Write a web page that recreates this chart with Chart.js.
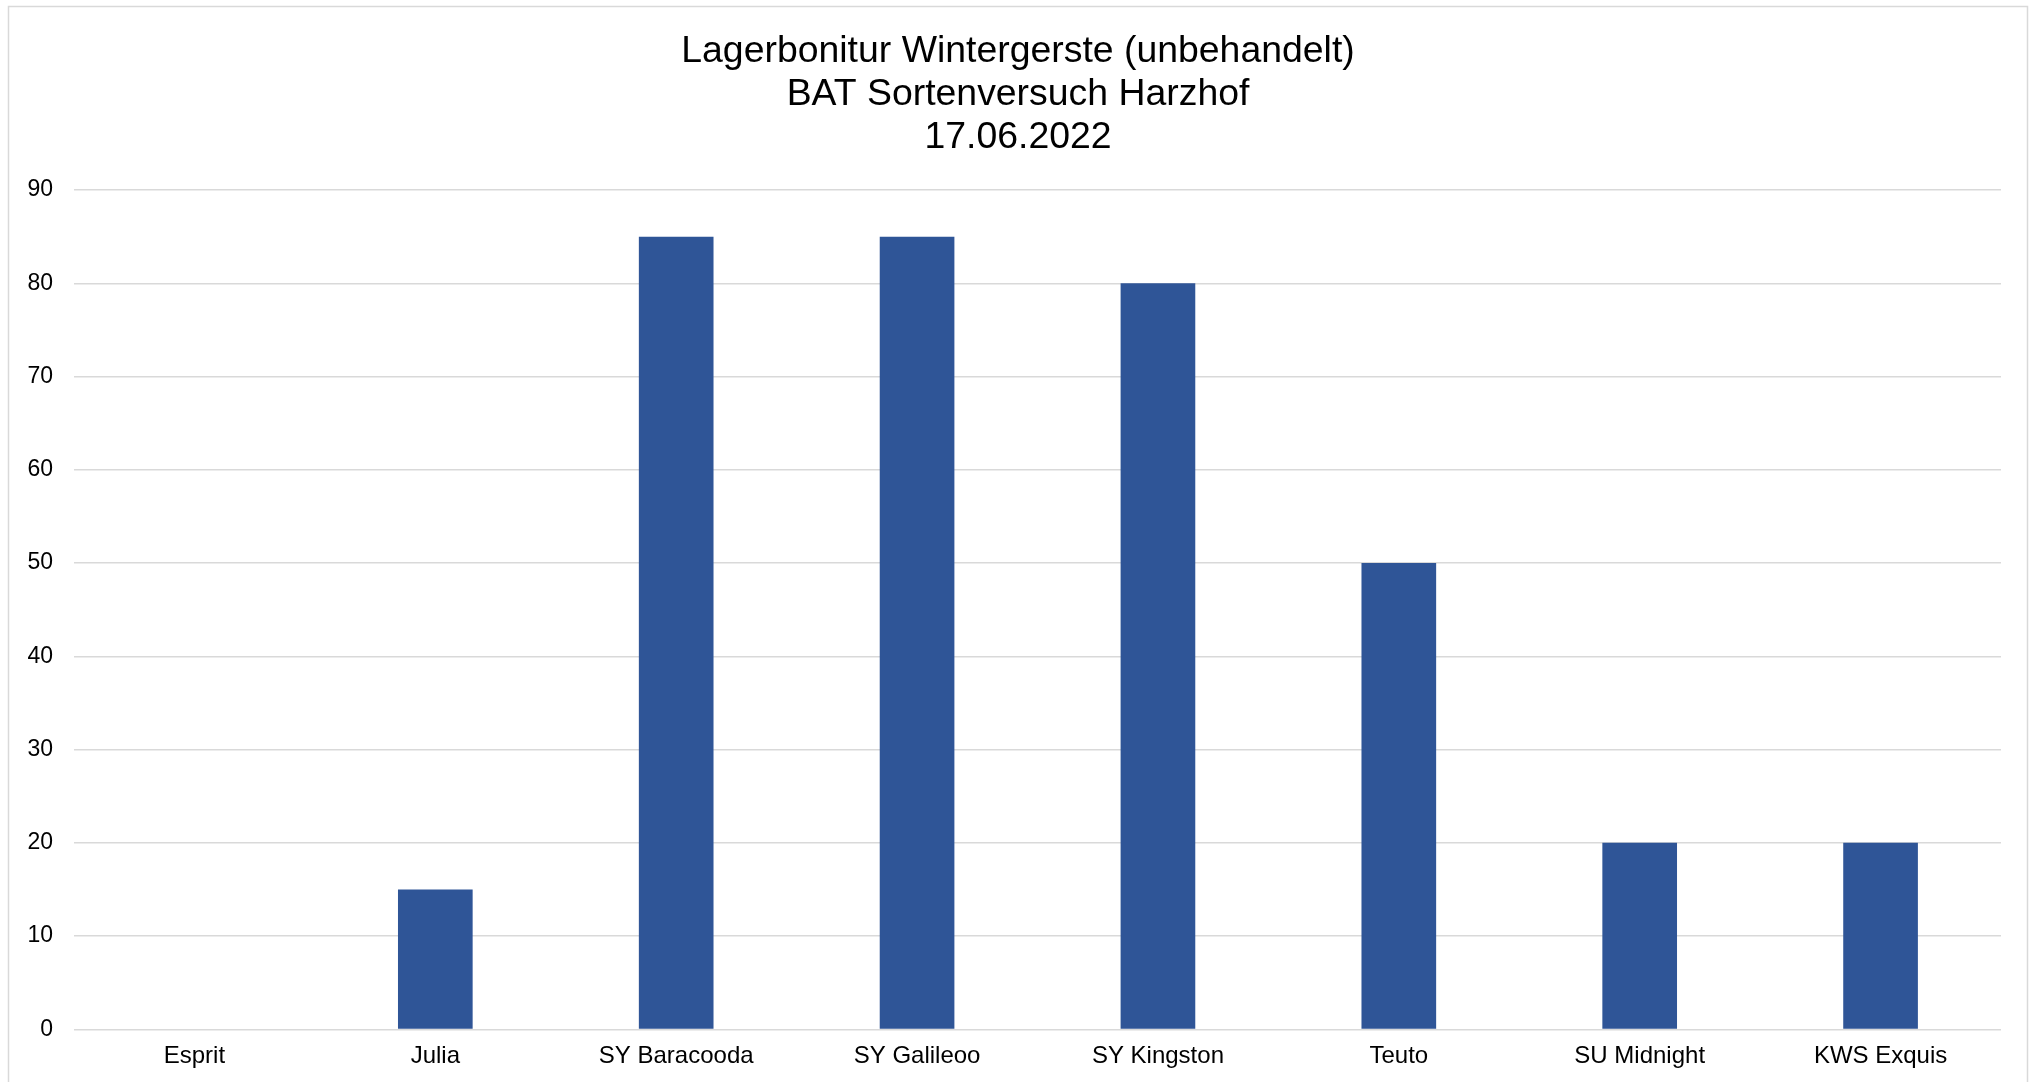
<!DOCTYPE html>
<html>
<head>
<meta charset="utf-8">
<script src="https://cdn.jsdelivr.net/npm/chart.js@4/dist/chart.umd.min.js"></script>
<style>
  html, body { margin: 0; padding: 0; background: #fff; overflow: hidden; }
  #wrap { position: absolute; left: 0; top: 0; width: 2029px; height: 1082px; }
</style>
</head>
<body>
<div id="wrap"><canvas id="c"></canvas></div>
<script>
const categories = ["Esprit", "Julia", "SY Baracooda", "SY Galileoo", "SY Kingston", "Teuto", "SU Midnight", "KWS Exquis"];
const values = [0, 15, 85, 85, 80, 50, 20, 20];
const titleLines = ["Lagerbonitur Wintergerste (unbehandelt)", "BAT Sortenversuch Harzhof", "17.06.2022"];
const yMin = 0, yMax = 90, yStep = 10;

const FONT = "'Liberation Sans', Arial, sans-serif";

const borderPlugin = {
  id: 'outerBorder',
  afterLayout(chart) {
    if (chart.titleBlock) {
      chart.titleBlock.left = 8;
      chart.titleBlock.right = 2028;
    }
  },
  beforeDraw(chart) {
    const ctx = chart.ctx;
    ctx.save();
    ctx.fillStyle = '#ffffff';
    ctx.fillRect(0, 0, chart.width, chart.height);
    ctx.strokeStyle = '#d9d9d9';
    ctx.lineWidth = 1.5;
    ctx.strokeRect(8.5, 6.5, 2019, 1085);
    ctx.restore();
  }
};

new Chart(document.getElementById('c'), {
  type: 'bar',
  data: {
    labels: categories,
    datasets: [{
      data: values,
      backgroundColor: '#2f5597',
      borderWidth: 0,
      barPercentage: 1.0,
      categoryPercentage: 0.31
    }]
  },
  options: {
    responsive: true,
    maintainAspectRatio: false,
    animation: false,
    layout: { padding: { left: 0, right: 28, top: 0, bottom: -2.2 } },
    plugins: {
      legend: { display: false },
      tooltip: { enabled: false },
      title: {
        display: true,
        text: titleLines,
        color: '#000000',
        font: { family: FONT, size: 37.4, weight: 'normal', lineHeight: 1.15 },
        padding: { top: 30.6, bottom: 30.4 }
      }
    },
    scales: {
      x: {
        grid: { display: false, drawTicks: false },
        border: { display: false },
        ticks: {
          color: '#000000',
          font: { family: FONT, size: 24 },
          padding: 13,
          maxRotation: 0,
          autoSkip: false
        }
      },
      y: {
        min: yMin,
        max: yMax,
        afterFit(scale) { scale.width = 74; },
        grid: { color: '#d9d9d9', lineWidth: 1.4, drawTicks: false },
        border: { display: false },
        ticks: {
          stepSize: yStep,
          color: '#000000',
          font: { family: FONT, size: 23 },
          padding: 21
        }
      }
    }
  },
  plugins: [borderPlugin]
});
</script>
</body>
</html>
